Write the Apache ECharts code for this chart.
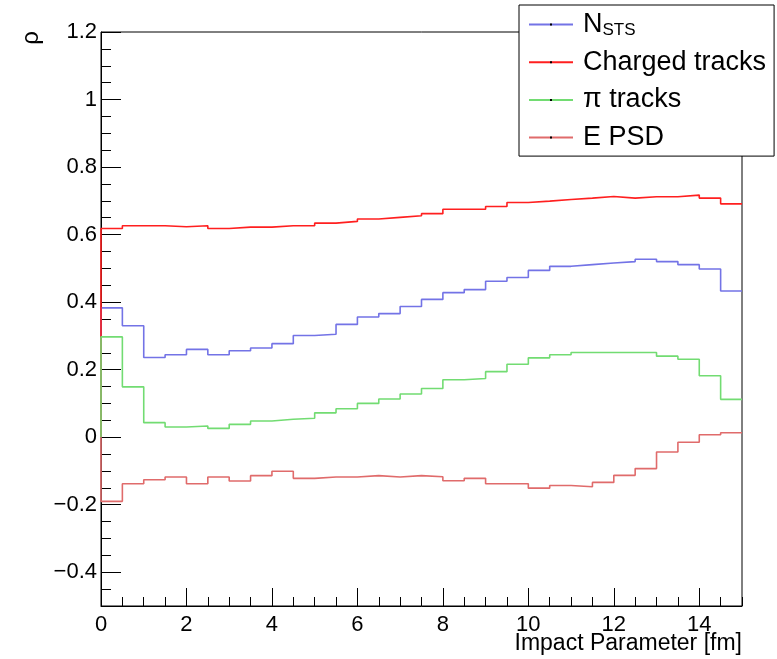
<!DOCTYPE html>
<html>
<head>
<meta charset="utf-8">
<script src="https://cdn.jsdelivr.net/npm/echarts@6/dist/echarts.min.js"></script>
<style>
html,body{margin:0;padding:0;background:#fff;}
#chart{width:777px;height:659px;}
</style>
</head>
<body>
<div id="chart"></div>
<script>
// ---- data ----
const xMin = 0;
const xMax = 15;
const binWidth = 0.5;
const seriesNames = ['N_STS', 'Charged tracks', '\u03c0 tracks', 'E PSD'];
const nSTS = [0.383,0.330,0.236,0.244,0.260,0.244,0.256,0.264,0.277,0.301,0.305,0.334,0.356,0.366,0.387,
              0.408,0.428,0.437,0.462,0.473,0.494,0.506,0.511,0.516,0.520,0.527,0.520,0.511,0.498,0.433];
const chargedTracks = [0.618,0.626,0.626,0.623,0.626,0.618,0.622,0.622,0.626,0.626,0.634,0.639,0.646,0.651,0.656,
                       0.662,0.675,0.675,0.683,0.695,0.699,0.704,0.708,0.713,0.708,0.712,0.712,0.717,0.708,0.691];
const piTracks = [0.297,0.149,0.043,0.030,0.033,0.026,0.038,0.048,0.053,0.056,0.072,0.084,0.100,0.113,0.128,
                  0.144,0.170,0.174,0.194,0.216,0.235,0.244,0.251,0.251,0.251,0.251,0.240,0.231,0.182,0.112];
const ePSD = [-0.190,-0.138,-0.126,-0.118,-0.138,-0.118,-0.130,-0.114,-0.101,-0.122,-0.118,-0.118,-0.114,-0.118,-0.114,
              -0.117,-0.129,-0.122,-0.138,-0.138,-0.151,-0.143,-0.147,-0.134,-0.113,-0.093,-0.044,-0.015,0.007,0.013];
const yMin = -0.5, yMax = 1.2;
const yMajorTicks = [-0.4,-0.2,0,0.2,0.4,0.6,0.8,1,1.2];
const xMajorTicks = [0,2,4,6,8,10,12,14];
const xTitle = 'Impact Parameter [fm]';
const yTitle = '\u03c1';

// build histogram outline (ROOT style: rises from baseline at the first edge, then steps)
function histPoints(vals) {
  const pts = [[xMin, 0]];
  vals.forEach((v, i) => pts.push([xMin + i * binWidth, v]));
  pts.push([xMin + vals.length * binWidth, vals[vals.length - 1]]);
  return pts;
}

const FONT = 'Liberation Sans, Arial, Helvetica, sans-serif';
const colors = ['#7373e6', '#ff1f1f', '#72dc72', '#e06b6b'];
const datasets = [nSTS, chargedTracks, piTracks, ePSD];

const chart = echarts.init(document.getElementById('chart'), null, {renderer: 'canvas'});

const fmt = v => {
  const r = Math.round(v * 100) / 100;
  return r < 0 ? '\u2212' + String(Math.abs(r)) : String(r);
};

// legend layout constants (style only)
const LEG_LEFT = 519, LEG_TOP = 5, LEG_PAD_T = 5.5, LEG_PAD_L = 10, LEG_ROW_H = 28, LEG_GAP = 9.7, LEG_ICON_W = 44;
const legendDots = seriesNames.map((_, i) => ({
  type: 'rect', z: 100,
  shape: {x: LEG_LEFT + LEG_PAD_L + LEG_ICON_W / 2 - 1, y: LEG_TOP + LEG_PAD_T + LEG_ROW_H / 2 + i * (LEG_ROW_H + LEG_GAP) - 1, width: 2, height: 2},
  style: {fill: '#000'}
}));

const option = {
  animation: false,
  backgroundColor: '#fff',
  grid: {left: 101, right: 35, top: 32, bottom: 53, outerBoundsMode: 'none', containLabel: false,
         show: true, borderColor: '#000', borderWidth: 1, backgroundColor: 'transparent'},
  xAxis: [
    {type: 'value', min: xMin, max: xMax, interval: binWidth, position: 'bottom',
     axisLine: {show: true, onZero: false, lineStyle: {color: '#000', width: 1}},
     axisTick: {show: true, inside: true, length: 9, lineStyle: {color: '#000', width: 1}},
     axisLabel: {show: false}, splitLine: {show: false}},
    {type: 'value', min: xMin, max: xMax, interval: 2, position: 'bottom', offset: 0,
     axisLine: {show: false, onZero: false},
     axisTick: {show: true, inside: true, length: 18, customValues: xMajorTicks, lineStyle: {color: '#000', width: 1}},
     axisLabel: {show: true, customValues: xMajorTicks, margin: 8, fontFamily: FONT, fontSize: 22, color: '#000', formatter: fmt},
     splitLine: {show: false}}
  ],
  yAxis: [
    {type: 'value', min: yMin, max: yMax, interval: 0.05, position: 'left',
     axisLine: {show: true, onZero: false, lineStyle: {color: '#000', width: 1}},
     axisTick: {show: true, inside: true, length: 10, lineStyle: {color: '#000', width: 1}},
     axisLabel: {show: false}, splitLine: {show: false}},
    {type: 'value', min: yMin, max: yMax, interval: 0.1, position: 'left', offset: 0,
     axisLine: {show: false, onZero: false},
     axisTick: {show: true, inside: true, length: 20, customValues: yMajorTicks, lineStyle: {color: '#000', width: 1}},
     axisLabel: {show: true, customValues: yMajorTicks, margin: 4, fontFamily: FONT, fontSize: 22, color: '#000', formatter: fmt},
     splitLine: {show: false}}
  ],
  legend: {
    orient: 'vertical', left: LEG_LEFT, top: LEG_TOP,
    backgroundColor: '#fff', borderColor: '#000', borderWidth: 1,
    padding: [LEG_PAD_T, 8, 4.5, LEG_PAD_L], itemGap: LEG_GAP, itemWidth: LEG_ICON_W, itemHeight: 2,
    icon: 'rect',
    data: seriesNames,
    formatter: name => name === 'N_STS' ? '{n|N}{s|STS}' : name,
    textStyle: {fontFamily: FONT, fontSize: 27, color: '#000', lineHeight: LEG_ROW_H, padding: [0, 0, 0, 5],
      rich: {
        n: {fontFamily: FONT, fontSize: 27, color: '#000', lineHeight: LEG_ROW_H},
        s: {fontFamily: FONT, fontSize: 17, color: '#000', lineHeight: 6, verticalAlign: 'bottom'}
      }}
  },
  graphic: [
    {type: 'text', left: 19, top: 31, rotation: Math.PI / 2,
     style: {text: yTitle, fontFamily: FONT, fontSize: 24, fill: '#000'}},
    {type: 'text', right: 35, top: 632,
     style: {text: xTitle, fontFamily: FONT, fontSize: 23, fill: '#000'}}
  ].concat(legendDots),
  series: datasets.map((vals, k) => ({
    name: seriesNames[k], type: 'line', step: 'end',
    xAxisIndex: 0, yAxisIndex: 0,
    data: histPoints(vals),
    showSymbol: false, symbol: 'none',
    lineStyle: {color: colors[k], width: 1.6},
    itemStyle: {color: colors[k]},
    z: 2 + k
  }))
};
chart.setOption(option);
</script>
</body>
</html>
